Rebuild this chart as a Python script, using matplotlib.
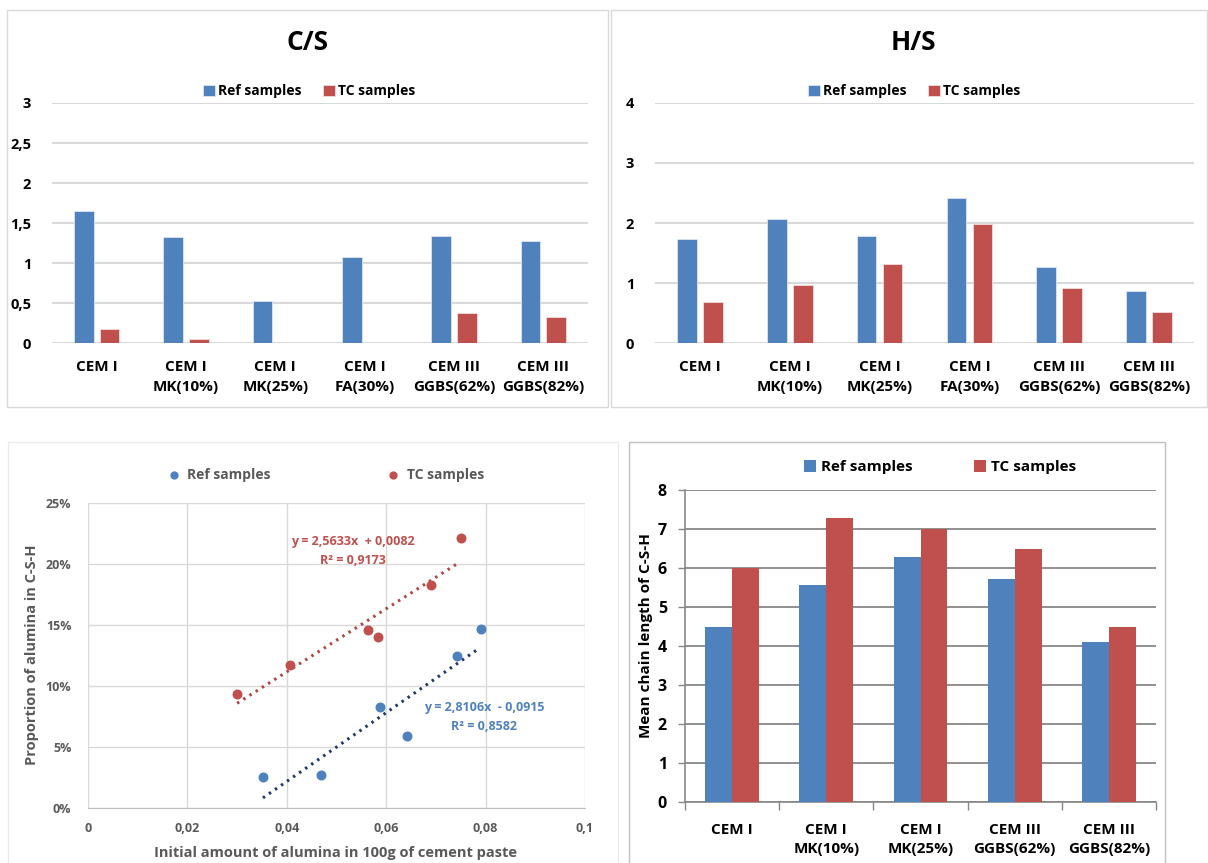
import numpy as np
import matplotlib
matplotlib.use('Agg')
import matplotlib.pyplot as plt
from matplotlib.patches import Rectangle
from matplotlib.ticker import FuncFormatter, FixedLocator, PercentFormatter

plt.rcParams['font.family'] = ['Open Sans', 'DejaVu Sans']
plt.rcParams['font.weight'] = 'bold'
plt.rcParams['axes.labelweight'] = 'bold'

# data
cats6 = ['CEM I', 'CEM I\nMK(10%)', 'CEM I\nMK(25%)', 'CEM I\nFA(30%)',
         'CEM III\nGGBS(62%)', 'CEM III\nGGBS(82%)']
cs_ref = [1.65, 1.32, 0.53, 1.07, 1.34, 1.27]
cs_tc = [0.18, 0.05, 0, 0, 0.37, 0.32]
hs_ref = [1.74, 2.07, 1.78, 2.42, 1.26, 0.86]
hs_tc = [0.69, 0.97, 1.31, 1.99, 0.91, 0.51]

cats5 = ['CEM I', 'CEM I\nMK(10%)', 'CEM I\nMK(25%)', 'CEM III\nGGBS(62%)', 'CEM III\nGGBS(82%)']
mcl_ref = [4.48, 5.57, 6.28, 5.72, 4.09]
mcl_tc = [6.0, 7.28, 7.0, 6.48, 4.48]

ref_x = [0.0352, 0.0468, 0.0588, 0.0642, 0.0743, 0.0791]
ref_y = [0.0251, 0.0268, 0.0825, 0.0587, 0.1243, 0.147]
tc_x = [0.0300, 0.0406, 0.0563, 0.0584, 0.0691, 0.0751]
tc_y = [0.0932, 0.1175, 0.1462, 0.1404, 0.1825, 0.2213]
ref_eq = ['y = 2,8106x  - 0,0915', 'R² = 0,8582']
tc_eq = ['y = 2,5633x  + 0,0082', 'R² = 0,9173']

BLUE = '#4F81BD'
RED = '#C0504D'
GREY = '#595959'

W, H = 1208, 863
fig = plt.figure(figsize=(W / 100, H / 100), dpi=100)


def box(l, t, r, b):
    return [l / W, 1 - b / H, (r - l) / W, (b - t) / H]


def frame(l, t, r, b, color):
    fig.add_artist(Rectangle((l / W, 1 - b / H), (r - l) / W, (b - t) / H,
                             transform=fig.transFigure, fill=False, ec=color, lw=1))


def comma(v, pos):
    return ('%g' % v).replace('.', ',')


def fpos(x, y):
    return x / W, 1 - y / H


frame(7, 10, 608, 407, '#D9D9D9')
frame(611, 10, 1207, 407, '#D9D9D9')
frame(8, 442, 618, 875, '#EBEBEB')
frame(629, 442, 1165, 875, '#BFBFBF')


def small_bars(rect, ref, tc, ymax, step, title, title_x, leg_x):
    ax = fig.add_axes(box(*rect))
    x = np.arange(len(cats6))
    ax.bar(x - 0.145, ref, 0.22, color=BLUE, ec='#DCE6F2', lw=0.6, label='Ref samples', zorder=3)
    ax.bar(x + 0.145, tc, 0.22, color=RED, ec='#F2DCDB', lw=0.6, label='TC samples', zorder=3)
    ax.set_xlim(-0.5, len(cats6) - 0.5)
    ax.set_ylim(0, ymax)
    ax.set_yticks(np.arange(0, ymax + 0.01, step))
    ax.yaxis.set_major_formatter(FuncFormatter(comma))
    ax.set_xticks(x)
    ax.set_xticklabels(cats6, fontsize=11, linespacing=1.6)
    ax.tick_params(axis='y', length=0, pad=15, labelsize=10.5)
    ax.tick_params(axis='x', length=0, pad=12)
    ax.grid(axis='y', color='#D9D9D9', lw=1.5, zorder=0)
    for s in ax.spines.values():
        s.set_visible(False)
    fig.text(*fpos(title_x, 43), title, fontsize=19, ha='center', va='center')
    ax.legend(loc='center', bbox_to_anchor=fpos(leg_x, 91), bbox_transform=fig.transFigure,
              ncol=2, frameon=False, fontsize=10, handlelength=0.85, handleheight=0.85,
              handletextpad=0.2, columnspacing=1.6)
    return ax


small_bars((52, 103, 588, 343), cs_ref, cs_tc, 3, 0.5, 'C/S', 307, 309)
small_bars((655, 103, 1194, 343), hs_ref, hs_tc, 4, 1, 'H/S', 913, 914)

# scatter with trendlines
ax3 = fig.add_axes(box(88, 503, 585, 808))
ax3.scatter(ref_x, ref_y, s=38, color=BLUE, label='Ref samples', zorder=4)
ax3.scatter(tc_x, tc_y, s=38, color=RED, label='TC samples', zorder=4)
for xs, ys, c in [(ref_x, ref_y, '#203864'), (tc_x, tc_y, '#B04644')]:
    k, b = np.polyfit(xs, ys, 1)
    xl = np.array([min(xs), max(xs) - 0.0005])
    ax3.plot(xl, k * xl + b, color=c, lw=2.2, ls=(0, (0.8, 1.6)), zorder=3)
ax3.set_xlim(0, 0.1)
ax3.set_ylim(0, 0.25)
ax3.set_xticks(np.arange(0, 0.1001, 0.02))
ax3.set_yticks(np.arange(0, 0.2501, 0.05))
ax3.xaxis.set_major_formatter(FuncFormatter(comma))
ax3.yaxis.set_major_formatter(PercentFormatter(1, decimals=0))
ax3.tick_params(length=0, labelsize=9, labelcolor=GREY)
ax3.tick_params(axis='y', pad=12)
ax3.tick_params(axis='x', pad=10)
ax3.grid(color='#D9D9D9', lw=1, zorder=0)
for s in ['top', 'right', 'left']:
    ax3.spines[s].set_visible(False)
ax3.spines['bottom'].set_color('#BFBFBF')
ax3.set_xlabel('Initial amount of alumina in 100g of cement paste', fontsize=10.5, color=GREY)
ax3.xaxis.set_label_coords(*fpos(335, 846), transform=fig.transFigure)
ax3.set_ylabel('Proportion of alumina in C-S-H', fontsize=10.5, color=GREY)
ax3.yaxis.set_label_coords(*fpos(39, 655), transform=fig.transFigure)
fig.text(*fpos(353, 542), tc_eq[0], color=RED, fontsize=9, ha='center', va='center')
fig.text(*fpos(353, 561), tc_eq[1], color=RED, fontsize=9, ha='center', va='center')
fig.text(*fpos(484, 708), ref_eq[0], color=BLUE, fontsize=9, ha='center', va='center')
fig.text(*fpos(484, 727), ref_eq[1], color=BLUE, fontsize=9, ha='center', va='center')
leg = ax3.legend(loc='center', bbox_to_anchor=fpos(322, 475), bbox_transform=fig.transFigure,
                 ncol=2, frameon=False, fontsize=10, handletextpad=0.0, columnspacing=7.8,
                 markerscale=0.8)
for t in leg.get_texts():
    t.set_color(GREY)

# mean chain length
ax4 = fig.add_axes(box(685, 490, 1156, 802))
x5 = np.arange(len(cats5))
ax4.bar(x5 - 0.143, mcl_ref, 0.286, color=BLUE, label='Ref samples', zorder=3)
ax4.bar(x5 + 0.143, mcl_tc, 0.286, color=RED, label='TC samples', zorder=3)
ax4.set_xlim(-0.5, len(cats5) - 0.5)
ax4.set_ylim(0, 8)
ax4.set_yticks(range(0, 9))
ax4.set_xticks(x5)
ax4.set_xticklabels(cats5, fontsize=11, linespacing=1.5)
ax4.xaxis.set_minor_locator(FixedLocator(np.arange(-0.5, len(cats5), 1)))
ax4.tick_params(axis='x', which='major', length=0, pad=15)
ax4.tick_params(axis='x', which='minor', length=6, color='#878787', width=1)
ax4.tick_params(axis='y', length=5, color='#878787', width=1, pad=8, labelsize=11.5)
ax4.grid(axis='y', color='#878787', lw=1.3, zorder=0)
for s in ['top', 'right']:
    ax4.spines[s].set_visible(False)
for s in ['left', 'bottom']:
    ax4.spines[s].set_color('#878787')
    ax4.spines[s].set_linewidth(1.2)
ax4.set_ylabel('Mean chain length of C-S-H', fontsize=11)
ax4.yaxis.set_label_coords(*fpos(653, 635), transform=fig.transFigure)
ax4.legend(loc='center', bbox_to_anchor=fpos(940, 467), bbox_transform=fig.transFigure,
           ncol=2, frameon=False, fontsize=11, handlelength=0.8, handleheight=0.8,
           handletextpad=0.3, columnspacing=4.0)

fig.savefig('out.png', dpi=100, facecolor='white')
